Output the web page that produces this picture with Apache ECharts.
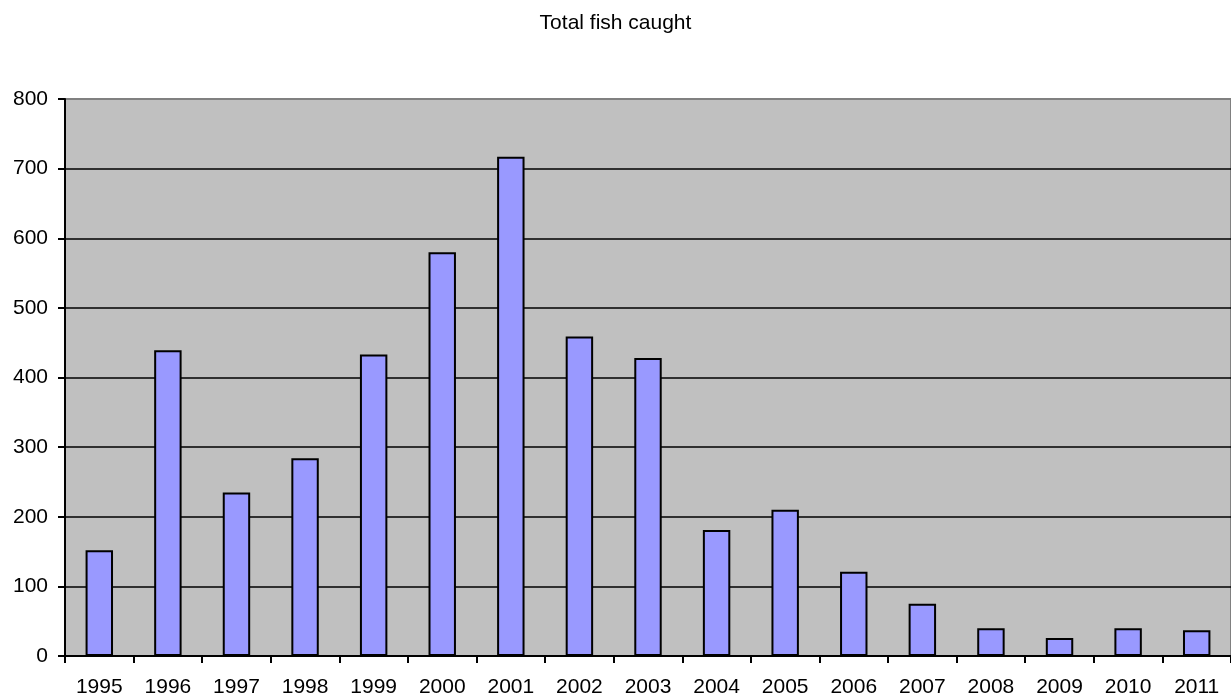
<!DOCTYPE html>
<html>
<head>
<meta charset="utf-8">
<script src="https://cdn.jsdelivr.net/npm/echarts@6/dist/echarts.min.js"></script>
<style>
html,body{margin:0;padding:0;background:#fff;}
#chart{width:1231px;height:698px;}
</style>
</head>
<body>
<div id="chart"></div>
<script>
var titleText = 'Total fish caught';
var years = ['1995','1996','1997','1998','1999','2000','2001','2002','2003','2004','2005','2006','2007','2008','2009','2010','2011'];
var fishCaught = [152, 439, 235, 284, 433, 580, 717, 459, 428, 181, 210, 121, 75, 40, 26, 40, 37];

var chart = echarts.init(document.getElementById('chart'));
var font = '"Liberation Sans", Arial, sans-serif';
chart.setOption({
  animation: false,
  backgroundColor: '#ffffff',
  title: {
    text: titleText,
    left: 'center',
    top: 8,
    textStyle: {fontFamily: font, fontSize: 21, fontWeight: 'normal', color: '#000'}
  },
  grid: {
    left: 65, right: 0, top: 99, bottom: 42,
    show: true,
    backgroundColor: '#C0C0C0',
    borderColor: '#808080',
    borderWidth: 2
  },
  xAxis: {
    type: 'category',
    data: years,
    axisLine: {lineStyle: {color: '#000', width: 2}},
    axisTick: {show: true, length: 7, lineStyle: {color: '#000', width: 2}},
    axisLabel: {fontFamily: font, fontSize: 21, color: '#000', margin: 21, interval: 0}
  },
  yAxis: {
    type: 'value',
    min: 0, max: 800, interval: 100,
    axisLine: {show: true, lineStyle: {color: '#000', width: 2}},
    axisTick: {show: true, length: 7, lineStyle: {color: '#000', width: 2}},
    axisLabel: {fontFamily: font, fontSize: 21, color: '#000', margin: 17},
    splitLine: {show: true, showMaxLine: false, lineStyle: {color: '#000', width: 1.5}}
  },
  series: [{
    type: 'bar',
    data: fishCaught,
    barWidth: '40%',
    itemStyle: {color: '#9999FF', borderColor: '#000', borderWidth: 2}
  }]
});
</script>
</body>
</html>
